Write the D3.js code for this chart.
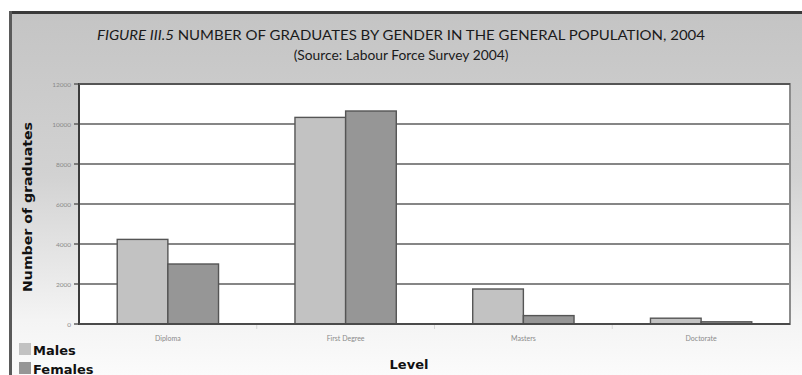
<!DOCTYPE html>
<html>
<head>
<meta charset="utf-8">
<script src="https://cdn.jsdelivr.net/npm/d3@7"></script>
<style>
  html, body { margin: 0; padding: 0; background: #ffffff; }
  svg { display: block; }
</style>
</head>
<body>
<svg id="chart" width="802" height="375"></svg>
<script>
// Graduates in the general population by level and gender, 2004
const levels  = ["Diploma", "First Degree", "Masters", "Doctorate"];
const males   = [4230, 10330, 1750, 290];
const females = [3000, 10650, 420, 110];
const yTicks  = [0, 2000, 4000, 6000, 8000, 10000, 12000];
const seriesNames  = ["Males", "Females"];
const seriesColors = ["#c2c2c2", "#969696"];

const W = 802, H = 375;
const plot = { left: 79, top: 84, right: 790, bottom: 324 };

const svg = d3.select("#chart");
const FONT = "Lato, 'Open Sans', sans-serif";
const BOLD = "'DejaVu Sans', Lato, sans-serif";

// Panel background: grey at the top fading to near white
const defs = svg.append("defs");
const grad = defs.append("linearGradient")
  .attr("id", "panelGrad").attr("x1", 0).attr("y1", 0).attr("x2", 0).attr("y2", 1);
grad.append("stop").attr("offset", "0%").attr("stop-color", "#c4c4c4");
grad.append("stop").attr("offset", "45%").attr("stop-color", "#d2d2d2");
grad.append("stop").attr("offset", "85%").attr("stop-color", "#f4f4f4");
grad.append("stop").attr("offset", "100%").attr("stop-color", "#fbfbfb");

svg.append("rect").attr("x", 0).attr("y", 0).attr("width", W).attr("height", H).attr("fill", "#ffffff");
svg.append("rect").attr("x", 10).attr("y", 12).attr("width", W - 10).attr("height", H - 12)
  .attr("fill", "url(#panelGrad)");
// Panel frame: dark top and left edges
svg.append("line").attr("x1", 9).attr("x2", W).attr("y1", 12.5).attr("y2", 12.5)
  .attr("stroke", "#3a3a3a").attr("stroke-width", 3);
svg.append("line").attr("x1", 10.5).attr("x2", 10.5).attr("y1", 11).attr("y2", H)
  .attr("stroke", "#5a5a5a").attr("stroke-width", 3);

// Titles
const title = svg.append("text")
  .attr("x", 401).attr("y", 40).attr("text-anchor", "middle")
  .attr("font-family", FONT).attr("font-size", 14).attr("fill", "#1a1a1a")
  .attr("textLength", 608).attr("lengthAdjust", "spacingAndGlyphs");
title.append("tspan").attr("font-style", "italic").text("FIGURE III.5");
title.append("tspan").text(" NUMBER OF GRADUATES BY GENDER IN THE GENERAL POPULATION, 2004");
svg.append("text")
  .attr("x", 401).attr("y", 60).attr("text-anchor", "middle")
  .attr("font-family", FONT).attr("font-size", 13.8).attr("fill", "#1a1a1a")
  .text("(Source: Labour Force Survey 2004)");

// Scales
const x0 = d3.scaleBand().domain(levels)
  .range([plot.left, plot.right]).paddingInner(0.43).paddingOuter(0.215);
const x1 = d3.scaleBand().domain(seriesNames).range([0, x0.bandwidth()]).padding(0);
const y = d3.scaleLinear().domain([0, 12000]).range([plot.bottom, plot.top]);

// Plot area
svg.append("rect")
  .attr("x", plot.left).attr("y", plot.top)
  .attr("width", plot.right - plot.left).attr("height", plot.bottom - plot.top)
  .attr("fill", "#ffffff");

// Gridlines
svg.append("g").selectAll("line").data(yTicks).join("line")
  .attr("x1", plot.left - 5).attr("x2", plot.right)
  .attr("y1", d => y(d)).attr("y2", d => y(d))
  .attr("stroke", "#5e5e5e").attr("stroke-width", 1.6);

// Y axis labels
const yAxis = d3.axisLeft(y).tickValues(yTicks).tickSize(0).tickPadding(8)
  .tickFormat(d3.format("d"));
const gy = svg.append("g").attr("transform", `translate(${plot.left},0)`).call(yAxis);
gy.select(".domain").remove();
gy.selectAll("text").attr("font-family", FONT).attr("font-size", 6.5).attr("fill", "#8a8a8a");

// Plot frame
svg.append("line").attr("x1", plot.left).attr("x2", plot.left)
  .attr("y1", plot.top - 1).attr("y2", plot.bottom + 1)
  .attr("stroke", "#3c3c3c").attr("stroke-width", 2);
svg.append("line").attr("x1", plot.right).attr("x2", plot.right)
  .attr("y1", plot.top - 1).attr("y2", plot.bottom + 1)
  .attr("stroke", "#8c8c8c").attr("stroke-width", 2);
svg.append("line").attr("x1", plot.left).attr("x2", plot.right)
  .attr("y1", plot.top).attr("y2", plot.top)
  .attr("stroke", "#555555").attr("stroke-width", 2);

// Bars
const rows = levels.map((l, i) => ({ level: l, values: [males[i], females[i]] }));
const groups = svg.append("g").selectAll("g").data(rows).join("g")
  .attr("transform", d => `translate(${x0(d.level)},0)`);
groups.selectAll("rect").data(d => d.values.map((v, j) => ({ name: seriesNames[j], value: v, j })))
  .join("rect")
  .attr("x", d => x1(d.name))
  .attr("y", d => y(d.value))
  .attr("width", x1.bandwidth())
  .attr("height", d => y(0) - y(d.value))
  .attr("fill", d => seriesColors[d.j])
  .attr("stroke", "#555555").attr("stroke-width", 1.4);

// Baseline on top of bars
svg.append("line").attr("x1", plot.left).attr("x2", plot.right)
  .attr("y1", y(0)).attr("y2", y(0))
  .attr("stroke", "#4a4a4a").attr("stroke-width", 1.8);

// X axis category labels and faint separators
const xAxis = d3.axisBottom(x0).tickSize(0).tickPadding(12);
const gx = svg.append("g").attr("transform", `translate(0,${plot.bottom})`).call(xAxis);
gx.select(".domain").remove();
gx.selectAll("text").attr("font-family", FONT).attr("font-size", 7).attr("fill", "#8a8a8a");
const seps = levels.slice(1).map(l => x0(l) - x0.step() * x0.paddingInner() / 2);
svg.append("g").selectAll("line").data(seps).join("line")
  .attr("x1", d => d).attr("x2", d => d)
  .attr("y1", plot.bottom + 1).attr("y2", plot.bottom + 5)
  .attr("stroke", "#d6d6d6").attr("stroke-width", 1);

// Axis titles
svg.append("text")
  .attr("transform", `translate(32,${(plot.top + plot.bottom) / 2 + 3}) rotate(-90)`)
  .attr("text-anchor", "middle")
  .attr("font-family", BOLD).attr("font-size", 13).attr("font-weight", "bold").attr("fill", "#111")
  .attr("textLength", 170).attr("lengthAdjust", "spacingAndGlyphs")
  .text("Number of graduates");
svg.append("text")
  .attr("x", 409).attr("y", 369).attr("text-anchor", "middle")
  .attr("font-family", BOLD).attr("font-size", 13).attr("font-weight", "bold").attr("fill", "#111")
  .text("Level");

// Legend
const legend = svg.append("g").selectAll("g").data(seriesNames).join("g")
  .attr("transform", (d, i) => `translate(19,${343 + i * 19})`);
legend.append("rect").attr("width", 12).attr("height", 12)
  .attr("fill", (d, i) => seriesColors[i]);
legend.append("text").attr("x", 14).attr("y", 11.5)
  .attr("font-family", BOLD).attr("font-size", 13).attr("font-weight", "bold").attr("fill", "#111")
  .text(d => d);
</script>
</body>
</html>
